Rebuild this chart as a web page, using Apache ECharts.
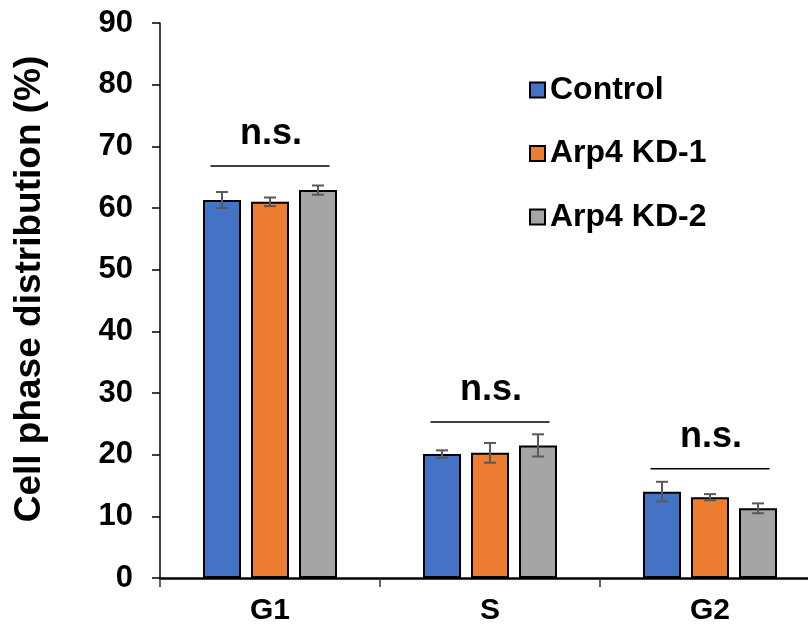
<!DOCTYPE html>
<html>
<head>
<meta charset="utf-8">
<script src="https://cdn.jsdelivr.net/npm/echarts@6/dist/echarts.min.js"></script>
<style>
html,body{margin:0;padding:0;background:#fff;overflow:hidden;width:808px;height:632px;}
#chart{width:820px;height:632px;}
</style>
</head>
<body>
<div id="chart"></div>
<script>
// ---- data ----
var categories = ['G1', 'S', 'G2'];
var seriesNames = ['Control', 'Arp4 KD-1', 'Arp4 KD-2'];
var control = [61.3, 20.1, 14.0];
var kd1 = [61.0, 20.3, 13.1];
var kd2 = [62.9, 21.5, 11.3];
var controlErr = [1.3, 0.6, 1.6];
var kd1Err = [0.7, 1.6, 0.5];
var kd2Err = [0.75, 1.8, 0.8];
var sigLabels = ['n.s.', 'n.s.', 'n.s.'];
var sigLevel = [66.8, 25.3, 17.7];
var yTickMin = 0, yTickMax = 90, yTickStep = 10;
var yAxisTitle = 'Cell phase distribution (%)';

// ---- styling ----
var colors = ['#4472C4', '#ED7D31', '#A5A5A5'];
var FONT = 'Arial, "Liberation Sans", sans-serif';
var BAR_W = 38, BAR_GAP = 10;

var values = [control, kd1, kd2];
var errs = [controlErr, kd1Err, kd2Err];

var chart = echarts.init(document.getElementById('chart'), null, {renderer: 'canvas'});

var series = [];
values.forEach(function (vals, si) {
  series.push({
    name: seriesNames[si],
    type: 'bar',
    data: vals,
    barWidth: BAR_W,
    barGap: (BAR_GAP / BAR_W * 100) + '%',
    itemStyle: {color: colors[si], borderColor: '#000', borderWidth: 2},
    z: 2
  });
});

values.forEach(function (vals, si) {
  var offset = (si - (values.length - 1) / 2) * (BAR_W + BAR_GAP);
  series.push({
    name: 'err' + si,
    type: 'custom',
    z: 5,
    data: vals.map(function (v, i) { return [i, v, errs[si][i]]; }),
    renderItem: function (params, api) {
      var x = api.value(0), v = api.value(1), e = api.value(2);
      var hi = api.coord([x, v + e]);
      var lo = api.coord([x, v - e]);
      var cx = hi[0] + offset;
      var cap = 6;
      var st = {stroke: '#595959', lineWidth: 2};
      return {
        type: 'group',
        children: [
          {type: 'line', shape: {x1: cx, y1: hi[1], x2: cx, y2: lo[1]}, style: st},
          {type: 'line', shape: {x1: cx - cap, y1: hi[1], x2: cx + cap, y2: hi[1]}, style: st},
          {type: 'line', shape: {x1: cx - cap, y1: lo[1], x2: cx + cap, y2: lo[1]}, style: st}
        ]
      };
    }
  });
});

series.push({
  name: 'sig',
  type: 'custom',
  z: 6,
  data: sigLevel.map(function (v, i) { return [i, v, sigLabels[i]]; }),
  renderItem: function (params, api) {
    var x = api.value(0), v = api.value(1);
    var p = api.coord([x, v]);
    var half = 59.5;
    return {
      type: 'group',
      children: [
        {type: 'line', shape: {x1: p[0] - half, y1: p[1], x2: p[0] + half, y2: p[1]},
          style: {stroke: '#000', lineWidth: 1.5}},
        {type: 'text', x: p[0] + 1, y: p[1] - 32,
          style: {text: sigLabels[params.dataIndex], font: 'bold 36px ' + FONT, fill: '#000',
            textAlign: 'center', textVerticalAlign: 'middle'}}
      ]
    };
  }
});

var option = {
  animation: false,
  backgroundColor: '#fff',
  grid: {left: 160, top: 23, right: 0, bottom: 54, containLabel: false},
  legend: {
    data: seriesNames,
    orient: 'vertical',
    left: 529,
    top: 74,
    padding: 0,
    itemWidth: 15,
    itemHeight: 15,
    itemGap: 31.5,
    itemTextGap: 8,
    icon: 'rect',
    textStyle: {fontFamily: FONT, fontWeight: 'bold', fontSize: 32, color: '#000', lineHeight: 30}
  },
  xAxis: {
    type: 'category',
    data: categories,
    boundaryGap: true,
    axisLine: {lineStyle: {color: '#000', width: 2.5}},
    axisTick: {show: true, length: 9, lineStyle: {color: '#333', width: 1.5}},
    axisLabel: {fontFamily: FONT, fontWeight: 'bold', fontSize: 30, color: '#000', margin: 18}
  },
  yAxis: {
    type: 'value',
    min: yTickMin,
    max: yTickMax,
    interval: yTickStep,
    splitLine: {show: false},
    axisLine: {show: true, lineStyle: {color: '#000', width: 1.5}},
    axisTick: {show: true, length: 8, lineStyle: {color: '#000', width: 1.5}},
    axisLabel: {fontFamily: FONT, fontWeight: 'bold', fontSize: 31, color: '#000', margin: 27}
  },
  graphic: [{
    type: 'text',
    x: 30,
    y: 289,
    rotation: Math.PI / 2,
    style: {text: yAxisTitle, font: 'bold 37px ' + FONT, fill: '#000',
      textAlign: 'center', textVerticalAlign: 'middle'}
  }],
  series: series
};

chart.setOption(option);
</script>
</body>
</html>
